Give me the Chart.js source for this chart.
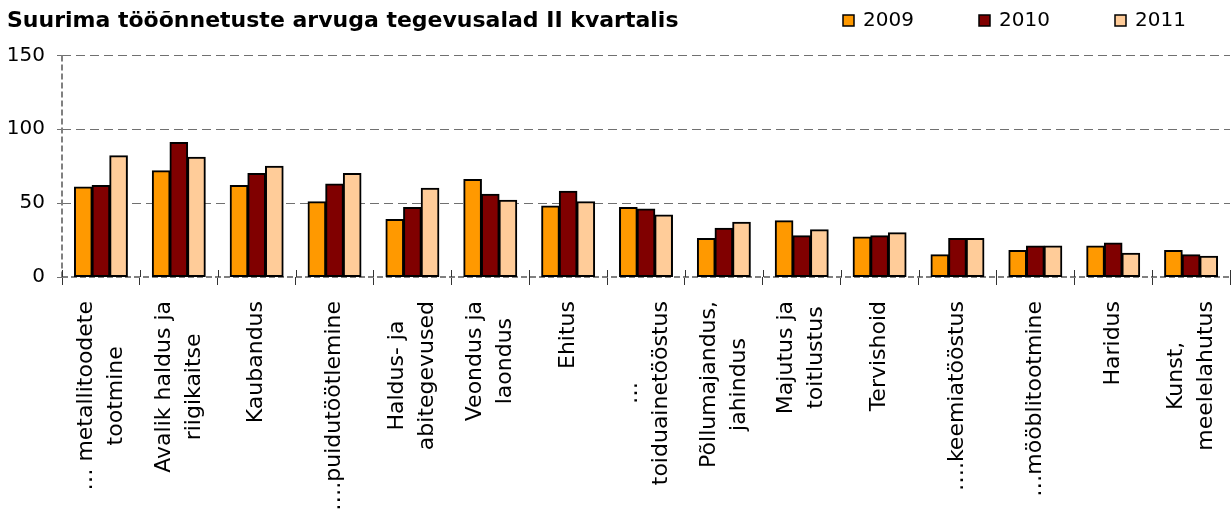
<!DOCTYPE html>
<html>
<head>
<meta charset="utf-8">
<script src="https://cdn.jsdelivr.net/npm/chart.js@4.4.1/dist/chart.umd.min.js"></script>
<style>
  body { margin: 0; background: #fff; }
  canvas { display: block; }
</style>
</head>
<body>
<canvas id="chart-canvas" width="1231" height="513"></canvas>
<script>
const categories = [
  ['… metallitoodete', 'tootmine'],
  ['Avalik haldus ja', 'riigikaitse'],
  'Kaubandus',
  '….puidutöötlemine',
  ['Haldus- ja', 'abitegevused'],
  ['Veondus ja', 'laondus'],
  'Ehitus',
  ['…', 'toiduainetööstus'],
  ['Põllumajandus,', 'jahindus'],
  ['Majutus ja', 'toitlustus'],
  'Tervishoid',
  '….keemiatööstus',
  '…mööblitootmine',
  'Haridus',
  ['Kunst,', 'meelelahutus']
]
const years = ['2009', '2010', '2011']
const values2009 = [61, 72, 62, 51, 39, 66, 48, 47, 26, 38, 27, 15, 18, 21, 18]
const values2010 = [62, 91, 70, 63, 47, 56, 58, 46, 33, 28, 28, 26, 21, 23, 15]
const values2011 = [82, 81, 75, 70, 60, 52, 51, 42, 37, 32, 30, 26, 21, 16, 14]
const yTicks = [0, 50, 100, 150]

const colors = ['#FF9900', '#800000', '#FFCC99']
const FONT = '"DejaVu Sans", Verdana, sans-serif'

// dashed grey axis lines, under the bars
const dashedAxes = {
  id: 'dashedAxes',
  beforeDatasetsDraw(chart) {
    const ctx = chart.ctx
    const a = chart.chartArea
    ctx.save()
    ctx.strokeStyle = '#808080'
    ctx.lineWidth = 2
    ctx.setLineDash([6, 3])
    ctx.beginPath()
    ctx.moveTo(a.left, a.top)
    ctx.lineTo(a.left, a.bottom)
    ctx.moveTo(a.left, a.bottom)
    ctx.lineTo(a.right, a.bottom)
    ctx.stroke()
    ctx.restore()
  }
}

// x labels: rotated, lines centered on each other; also the upper half of the cross ticks
const xLabels = {
  id: 'xLabels',
  afterDraw(chart) {
    const ctx = chart.ctx
    const xs = chart.scales.x
    const area = chart.chartArea
    ctx.save()
    ctx.strokeStyle = '#333'
    ctx.lineWidth = 1
    for (let i = 0; i <= chart.data.labels.length; i++) {
      const x = Math.round(xs.getPixelForValue(i - 0.5)) + 0.5
      ctx.beginPath()
      ctx.moveTo(x, area.bottom - 7)
      ctx.lineTo(x, area.bottom)
      ctx.stroke()
    }
    ctx.font = '22px ' + FONT
    ctx.fillStyle = '#000'
    ctx.textAlign = 'center'
    ctx.textBaseline = 'middle'
    chart.data.labels.forEach((lab, i) => {
      const lines = Array.isArray(lab) ? lab : [lab]
      const w = Math.max(...lines.map(l => ctx.measureText(l).width))
      const x = xs.getPixelForValue(i)
      const top = area.bottom + 24
      ctx.save()
      ctx.translate(x, top + w / 2)
      ctx.rotate(-Math.PI / 2)
      lines.forEach((l, j) => {
        ctx.fillText(l, 0, (j - (lines.length - 1) / 2) * 30)
      })
      ctx.restore()
    })
    ctx.restore()
  }
}

// legend sits on the title row, right side
const topLegend = {
  id: 'topLegend',
  afterDraw(chart) {
    const ctx = chart.ctx
    ctx.save()
    ctx.font = '20px ' + FONT
    ctx.textBaseline = 'middle'
    let x = 843
    const y = 21
    chart.data.datasets.forEach(ds => {
      ctx.fillStyle = ds.backgroundColor
      ctx.fillRect(x, y - 6, 11, 11)
      ctx.strokeStyle = '#000'
      ctx.lineWidth = 1.5
      ctx.strokeRect(x, y - 6, 11, 11)
      ctx.fillStyle = '#000'
      ctx.fillText(ds.label, x + 20, y)
      x += 136
    })
    ctx.restore()
  }
}

const seriesValues = [values2009, values2010, values2011]

const chartData = {
  labels: categories,
  datasets: years.map((y, i) => ({
    label: y,
    data: seriesValues[i],
    backgroundColor: colors[i],
    borderColor: '#000',
    borderWidth: 2,
    borderSkipped: false,
    inflateAmount: 0.5
  }))
}

const ctx = document.querySelector('#chart-canvas')
new Chart(ctx, {
  type: 'bar',
  data: chartData,
  plugins: [dashedAxes, xLabels, topLegend],
  options: {
    responsive: false,
    animation: false,
    datasets: {
      bar: { categoryPercentage: 0.68, barPercentage: 1 }
    },
    layout: { padding: { left: 7, right: 1, top: 0, bottom: 0 } },
    plugins: {
      legend: { display: false },
      tooltip: { enabled: false },
      title: {
        display: true,
        text: 'Suurima tööõnnetuste arvuga tegevusalad II kvartalis',
        align: 'start',
        color: '#000',
        font: { family: FONT, size: 22, weight: 'bold' },
        padding: { top: 8, bottom: 21 }
      }
    },
    scales: {
      x: {
        grid: {
          display: true,
          drawOnChartArea: false,
          offset: true,
          drawTicks: true,
          tickLength: 8,
          tickColor: '#333',
          tickWidth: 1
        },
        border: { display: false },
        ticks: { display: false },
        afterFit: s => { s.height = 236 }
      },
      y: {
        min: 0,
        max: 150,
        afterBuildTicks: s => { s.ticks = yTicks.map(v => ({ value: v })) },
        ticks: {
          color: '#000',
          padding: 12,
          font: { family: FONT, size: 20 }
        },
        grid: {
          color: (c) => c.tick && c.tick.value === 0 ? 'rgba(0,0,0,0)' : '#707070',
          lineWidth: 1,
          drawTicks: true,
          tickLength: 5,
          tickColor: '#707070'
        },
        border: { display: false, dash: [9, 5] },
        afterFit: s => { s.width = 55 }
      }
    }
  }
})
</script>
</body>
</html>
